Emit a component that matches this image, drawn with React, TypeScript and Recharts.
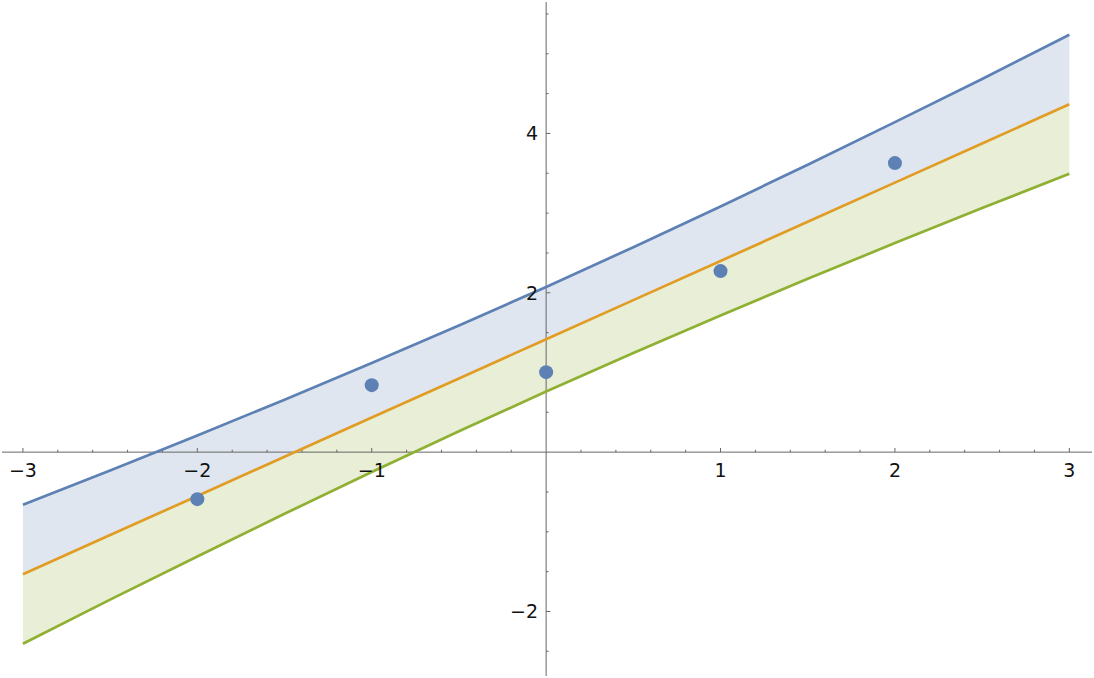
import {
  ComposedChart,
  Area,
  Line,
  Scatter,
  XAxis,
  YAxis,
  ReferenceLine,
  ReferenceDot,
} from 'recharts';

// fitted line and prediction band
const xs = [-3, -2.5, -2, -1.5, -1, -0.5, 0, 0.5, 1, 1.5, 2, 2.5, 3];
const fitValues = [-1.533, -1.041, -0.55, -0.058, 0.434, 0.925, 1.417, 1.908, 2.4, 2.891, 3.383, 3.874, 4.366];
const upperValues = [-0.661, -0.231, 0.209, 0.658, 1.118, 1.589, 2.074, 2.572, 3.084, 3.607, 4.142, 4.684, 5.238];
const lowerValues = [-2.405, -1.851, -1.309, -0.774, -0.25, 0.261, 0.76, 1.244, 1.716, 2.175, 2.624, 3.064, 3.494];

// observed points
const pointX = [-2, -1, 0, 1, 2];
const pointY = [-0.59, 0.841, 1.004, 2.272, 3.628];

// axis ticks
const xMajorTicks = [-3, -2, -1, 1, 2, 3];
const xMinorTicks = [
  -2.8, -2.6, -2.4, -2.2, -1.8, -1.6, -1.4, -1.2, -0.8, -0.6, -0.4, -0.2,
  0.2, 0.4, 0.6, 0.8, 1.2, 1.4, 1.6, 1.8, 2.2, 2.4, 2.6, 2.8,
];
const yMajorTicks = [-2, 2, 4];
const yMinorTicks = [-2.5, -1.5, -1, -0.5, 0.5, 1, 1.5, 2.5, 3, 3.5, 4.5, 5, 5.5];

const BLUE = '#5e81b5';
const ORANGE = '#e19c24';
const GREEN = '#8fb032';
const AXIS = '#666666';

const label = (v: number) => (v < 0 ? `\u2212${Math.abs(v)}` : `${v}`);

const bandData = xs.map((x, i) => ({
  x,
  fit: fitValues[i],
  upper: upperValues[i],
  lower: lowerValues[i],
  upperBand: [fitValues[i], upperValues[i]],
  lowerBand: [lowerValues[i], fitValues[i]],
}));

const pointData = pointX.map((x, i) => ({ x, y: pointY[i] }));

const labelStyle = { fontSize: '19px', fontFamily: '"DejaVu Sans", sans-serif' };

// tick label drawn next to the dot position
function tickLabel(text: string, side: 'below' | 'left') {
  return (props: any) => {
    const vb = props.viewBox || {};
    const cx = (vb.x ?? 0) + (vb.width ?? 0) / 2;
    const cy = (vb.y ?? 0) + (vb.height ?? 0) / 2;
    if (side === 'below') {
      return (
        <text x={cx} y={cy + 25} textAnchor="middle" fill="#111" style={labelStyle}>
          {text}
        </text>
      );
    }
    return (
      <text x={cx - 8} y={cy + 7} textAnchor="end" fill="#111" style={labelStyle}>
        {text}
      </text>
    );
  };
}

export default function App() {
  return (
    <div
      style={{
        position: 'absolute',
        left: 0,
        top: 0,
        width: 1094,
        height: 678,
        background: '#fff',
        fontFamily: '"DejaVu Sans", sans-serif',
      }}
    >
      <ComposedChart
        width={1094}
        height={678}
        data={bandData}
        margin={{ top: 2, right: 2, bottom: 2, left: 2 }}
      >
        <XAxis type="number" dataKey="x" domain={[-3.12, 3.13]} allowDataOverflow hide />
        <YAxis type="number" dataKey="y" domain={[-2.81, 5.65]} allowDataOverflow hide />

        <Area
          type="linear"
          dataKey="upperBand"
          stroke="none"
          fill="#dfe6f0"
          fillOpacity={1}
          isAnimationActive={false}
        />
        <Area
          type="linear"
          dataKey="lowerBand"
          stroke="none"
          fill="#e9efd6"
          fillOpacity={1}
          isAnimationActive={false}
        />

        <ReferenceLine x={0} stroke={AXIS} strokeWidth={1} />
        <ReferenceLine y={0} stroke={AXIS} strokeWidth={1} />
        {xMinorTicks.map((t) => (
          <ReferenceLine key={`xm${t}`} segment={[{ x: t, y: 0 }, { x: t, y: 0.03 }]} stroke={AXIS} />
        ))}
        {xMajorTicks.map((t) => (
          <ReferenceLine key={`xM${t}`} segment={[{ x: t, y: 0 }, { x: t, y: 0.052 }]} stroke={AXIS} />
        ))}
        {yMinorTicks.map((t) => (
          <ReferenceLine key={`ym${t}`} segment={[{ x: 0, y: t }, { x: 0.014, y: t }]} stroke={AXIS} />
        ))}
        {yMajorTicks.map((t) => (
          <ReferenceLine key={`yM${t}`} segment={[{ x: 0, y: t }, { x: 0.024, y: t }]} stroke={AXIS} />
        ))}

        {xMajorTicks.map((t) => (
          <ReferenceDot
            key={`xl${t}`}
            x={t}
            y={0}
            r={0}
            stroke="none"
            fill="none"
            label={tickLabel(label(t), 'below')}
          />
        ))}
        {yMajorTicks.map((t) => (
          <ReferenceDot
            key={`yl${t}`}
            x={0}
            y={t}
            r={0}
            stroke="none"
            fill="none"
            label={tickLabel(label(t), 'left')}
          />
        ))}

        <Line type="linear" dataKey="upper" stroke={BLUE} strokeWidth={2.7} dot={false} isAnimationActive={false} />
        <Line type="linear" dataKey="fit" stroke={ORANGE} strokeWidth={2.7} dot={false} isAnimationActive={false} />
        <Line type="linear" dataKey="lower" stroke={GREEN} strokeWidth={2.7} dot={false} isAnimationActive={false} />

        <Scatter
          data={pointData}
          dataKey="y"
          fill={BLUE}
          isAnimationActive={false}
          shape={(p: any) => <circle cx={p.cx} cy={p.cy} r={7} fill={BLUE} />}
        />
      </ComposedChart>
    </div>
  );
}
